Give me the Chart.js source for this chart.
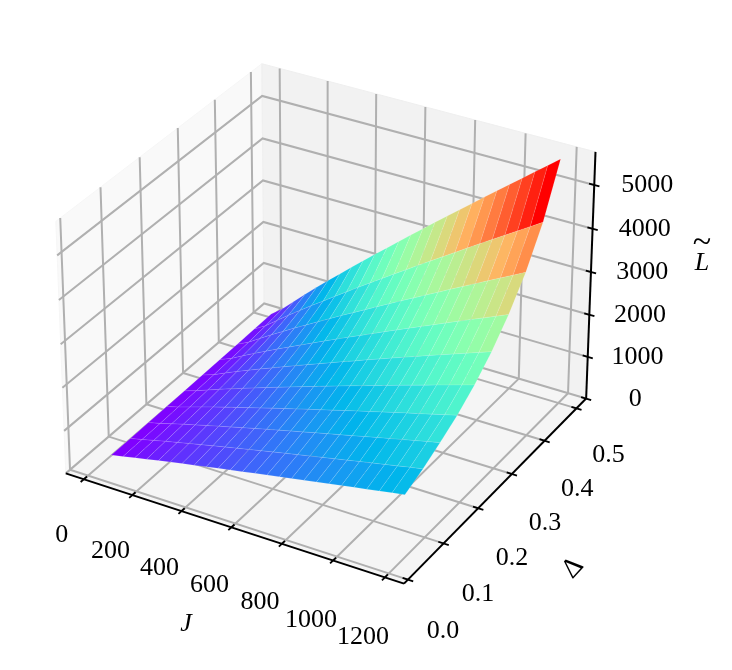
<!DOCTYPE html>
<html>
<head>
<meta charset="utf-8">
<style>
  html, body { margin: 0; padding: 0; background: #fff; }
  canvas { display: block; }
</style>
<script src="https://cdn.jsdelivr.net/npm/chart.js@4"></script>
</head>
<body>
<canvas id="canvas1" width="732" height="670"></canvas>
<script>
// grid of the surface
const jValues = [0, 49, 98, 147, 196, 245, 294, 343, 392, 441, 490, 539, 588, 637, 686, 735, 784, 833, 882, 931, 980, 1029, 1078, 1127, 1176];
const deltaValues = [0.06, 0.11, 0.158, 0.207, 0.256, 0.305, 0.354, 0.403, 0.452, 0.501];

const lDelta05 = [10, 66, 126, 183, 239, 295, 349, 403, 456, 510, 561, 613, 665, 716, 767, 818, 869, 918, 969, 1019, 1070, 1119, 1168, 1217, 1267];
const lDelta10 = [15, 76, 145, 211, 275, 339, 401, 463, 524, 585, 645, 705, 765, 823, 883, 940, 999, 1056, 1114, 1173, 1229, 1286, 1343, 1400, 1456];
const lDelta15 = [20, 87, 166, 243, 317, 390, 461, 533, 604, 674, 743, 812, 880, 947, 1016, 1083, 1150, 1215, 1282, 1349, 1415, 1480, 1546, 1612, 1677];
const lDelta20 = [25, 100, 190, 278, 364, 448, 529, 612, 692, 774, 852, 931, 1010, 1087, 1165, 1243, 1319, 1394, 1472, 1548, 1624, 1698, 1773, 1848, 1923];
const lDelta25 = [30, 117, 222, 326, 424, 523, 617, 714, 808, 902, 995, 1086, 1179, 1268, 1360, 1450, 1540, 1627, 1717, 1807, 1894, 1982, 2069, 2157, 2244];
const lDelta30 = [40, 137, 261, 383, 499, 616, 726, 840, 951, 1062, 1170, 1278, 1387, 1492, 1601, 1706, 1812, 1915, 2020, 2126, 2229, 2331, 2434, 2537, 2641];
const lDelta35 = [50, 163, 310, 454, 592, 729, 861, 996, 1127, 1258, 1387, 1515, 1643, 1769, 1897, 2022, 2148, 2270, 2395, 2520, 2642, 2765, 2887, 3008, 3131];
const lDelta40 = [60, 194, 371, 543, 707, 872, 1030, 1190, 1347, 1505, 1658, 1811, 1965, 2115, 2268, 2418, 2567, 2713, 2863, 3013, 3159, 3305, 3451, 3597, 3743];
const lDelta45 = [70, 236, 449, 658, 858, 1058, 1248, 1443, 1634, 1825, 2011, 2197, 2383, 2565, 2751, 2932, 3114, 3292, 3473, 3654, 3832, 4009, 4185, 4362, 4540];
const lDelta50 = [80, 293, 558, 817, 1065, 1313, 1550, 1793, 2029, 2266, 2497, 2728, 2959, 3185, 3416, 3642, 3867, 4087, 4312, 4538, 4758, 4977, 5197, 5417, 5637];
const lRows = [lDelta05, lDelta10, lDelta15, lDelta20, lDelta25, lDelta30, lDelta35, lDelta40, lDelta45, lDelta50];

const jTicks = [0, 200, 400, 600, 800, 1000, 1200];
const deltaTicks = [0, 0.1, 0.2, 0.3, 0.4, 0.5];
const lTicks = [0, 1000, 2000, 3000, 4000, 5000];
const deltaTickLabels = ["0.0", "0.1", "0.2", "0.3", "0.4", "0.5"];

// axis limits of the 3d box
const jLim = [-75, 1273];
const deltaLim = [-0.0108, 0.5309];
const lLim = [0, 5750];

const GRID = "#b0b0b0";
const FONT = '"Liberation Serif"';

// mplot3d style camera: elev 30, azim -60, dist 10
function project(u, v, w) {
  const qx = u - 0.5, qy = v - 0.5, qz = (w - 0.5) * 0.7286;
  const xv = 0.866 * qx + 0.5 * qy;
  const yv = -0.25 * qx + 0.433 * qy + 0.866 * qz;
  const d = 10 - (0.433 * qx - 0.75 * qy + 0.5 * qz);
  return { x: 10 * xv / d, y: 10 * yv / d };
}
const uOf = (j) => (j - jLim[0]) / (jLim[1] - jLim[0]);
const vOf = (d) => (d - deltaLim[0]) / (deltaLim[1] - deltaLim[0]);
const wOf = (l) => (l - lLim[0]) / (lLim[1] - lLim[0]);

function rainbow(t) {
  const r = Math.min(1, Math.abs(2 * t - 0.5));
  const g = Math.sin(Math.PI * t);
  const b = Math.cos(Math.PI * t / 2);
  return "rgb(" + Math.round(r * 255) + "," + Math.round(g * 255) + "," + Math.round(b * 255) + ")";
}

function lineSet(points, color, width) {
  return { data: points, borderColor: color, borderWidth: width, pointRadius: 0, fill: false, tension: 0, borderCapStyle: "butt" };
}
function polySet(points, color, edge, edgeWidth) {
  return { data: points.concat([points[0]]), backgroundColor: color, borderColor: edge, borderWidth: edgeWidth, pointRadius: 0, fill: "shape", tension: 0 };
}

// drawing order, back to front
const layers = [];

// panes
layers.push(polySet([project(0, 0, 0), project(0, 1, 0), project(0, 1, 1), project(0, 0, 1)], "#f9f9f9", "#f6f6f6", 1));
layers.push(polySet([project(0, 1, 0), project(1, 1, 0), project(1, 1, 1), project(0, 1, 1)], "#f2f2f2", "#efefef", 1));
layers.push(polySet([project(0, 0, 0), project(1, 0, 0), project(1, 1, 0), project(0, 1, 0)], "#f5f5f5", "#eeeeee", 1));

// grid lines run over the panes
jTicks.forEach((j) => {
  const u = uOf(j);
  layers.push(lineSet([project(u, 0, 0), project(u, 1, 0), project(u, 1, 1)], GRID, 2));
});
deltaTicks.forEach((d) => {
  const v = vOf(d);
  layers.push(lineSet([project(1, v, 0), project(0, v, 0), project(0, v, 1)], GRID, 2));
});
lTicks.forEach((l) => {
  const w = wOf(l);
  layers.push(lineSet([project(1, 1, w), project(0, 1, w), project(0, 0, w)], GRID, 2));
});

// surface facets, colour from the mean height of the facet
const facets = [];
for (let r = deltaValues.length - 2; r >= 0; r--) {
  for (let c = 0; c < jValues.length - 1; c++) {
    const mean = (lRows[r][c] + lRows[r][c + 1] + lRows[r + 1][c] + lRows[r + 1][c + 1]) / 4;
    facets.push({ r, c, mean });
  }
}
const meanMin = Math.min(...facets.map((f) => f.mean));
const meanMax = Math.max(...facets.map((f) => f.mean));
facets.forEach((f) => {
  const { r, c } = f;
  const pts = [
    project(uOf(jValues[c]), vOf(deltaValues[r]), wOf(lRows[r][c])),
    project(uOf(jValues[c + 1]), vOf(deltaValues[r]), wOf(lRows[r][c + 1])),
    project(uOf(jValues[c + 1]), vOf(deltaValues[r + 1]), wOf(lRows[r + 1][c + 1])),
    project(uOf(jValues[c]), vOf(deltaValues[r + 1]), wOf(lRows[r + 1][c])),
  ];
  layers.push(polySet(pts, rainbow((f.mean - meanMin) / (meanMax - meanMin)), "rgba(255,255,255,0.18)", 0.6));
});

// spines and tick marks
layers.push(lineSet([project(0, 0, 0), project(1, 0, 0)], "#000", 2));
layers.push(lineSet([project(1, 0, 0), project(1, 1, 0)], "#000", 2));
layers.push(lineSet([project(1, 1, 0), project(1, 1, 1)], "#000", 2));
jTicks.forEach((j) => {
  layers.push(lineSet([project(uOf(j), -0.015, 0), project(uOf(j), 0.015, 0)], "#000", 1.8));
});
deltaTicks.forEach((d) => {
  layers.push(lineSet([project(0.985, vOf(d), 0), project(1.015, vOf(d), 0)], "#000", 1.8));
});
lTicks.forEach((l) => {
  layers.push(lineSet([project(0.985, 1, wOf(l)), project(1.015, 1, wOf(l))], "#000", 1.8));
});

const textPlugin = {
  id: "axisText",
  afterDraw(chart) {
    const ctx = chart.ctx;
    const sx = chart.scales.x, sy = chart.scales.y;
    const put = (p, dx, dy, text) => {
      ctx.fillText(text, sx.getPixelForValue(p.x) + dx, sy.getPixelForValue(p.y) + dy);
    };
    ctx.save();
    ctx.fillStyle = "#000";
    ctx.textAlign = "center";
    ctx.textBaseline = "middle";
    ctx.font = "26px " + FONT;
    jTicks.forEach((j) => put(project(uOf(j), 0, 0), -22, 55.5 + j * 0.004, String(j)));
    deltaTicks.forEach((d, i) => put(project(1, vOf(d), 0), 35 - 6 * d, 52 - 10 * d, deltaTickLabels[i]));
    lTicks.forEach((l) => put(project(1, 1, wOf(l)), 49 + l * 0.0008, 0.5, String(l)));

    ctx.font = "italic 26px " + FONT;
    ctx.fillText("J", 186, 624);
    ctx.fillText("L", 702, 263);
    ctx.font = "34px " + FONT;
    ctx.fillText("~", 702, 243);
    ctx.font = "28px " + FONT;
    ctx.translate(573, 568);
    ctx.rotate(-47 * Math.PI / 180);
    ctx.fillText("Δ", 0, 0);
    ctx.restore();
  },
};

window.onload = function () {
  let ctx1 = document.getElementById("canvas1").getContext("2d");
  new Chart(ctx1, {
    type: "line",
    data: { datasets: layers.slice().reverse() },
    options: {
      responsive: false,
      animation: false,
      events: [],
      layout: { padding: 0 },
      plugins: { legend: { display: false }, tooltip: { enabled: false }, title: { display: false } },
      scales: {
        x: { type: "linear", display: false, min: -0.851, max: 1.0366 },
        y: { type: "linear", display: false, min: -0.9038, max: 0.7924 },
      },
    },
    plugins: [textPlugin],
  });
};
</script>
</body>
</html>
